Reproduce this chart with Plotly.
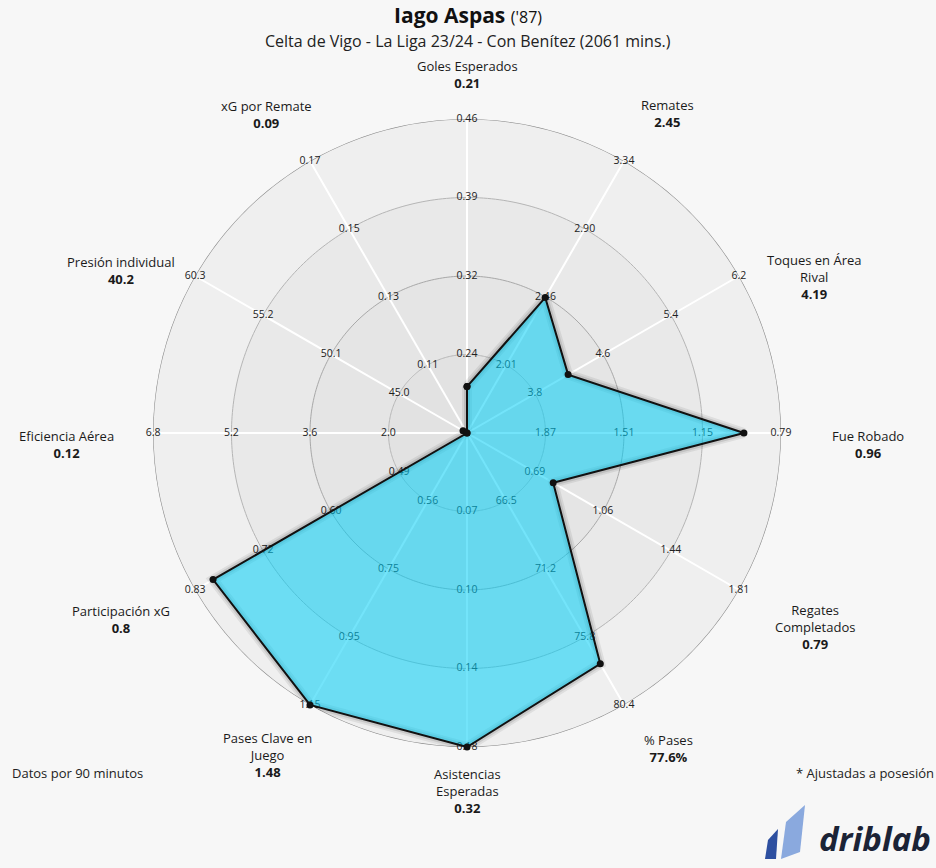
import numpy as np
import plotly.graph_objects as go

# ---------------- data ----------------
categories = ["Goles Esperados", "Remates", "Toques en Área<br>Rival", "Fue Robado",
              "Regates<br>Completados", "% Pases", "Asistencias<br>Esperadas",
              "Pases Clave en<br>Juego", "Participación xG", "Eficiencia Aérea",
              "Presión individual", "xG por Remate"]
values = [0.21, 2.45, 4.19, 0.96, 0.79, 77.6, 0.32, 1.48, 0.8, 0.12, 40.2, 0.09]
value_labels = ["0.21", "2.45", "4.19", "0.96", "0.79", "77.6%", "0.32", "1.48",
                "0.8", "0.12", "40.2", "0.09"]
tick_labels = [
    ["0.24", "0.32", "0.39", "0.46"],
    ["2.01", "2.46", "2.90", "3.34"],
    ["3.8", "4.6", "5.4", "6.2"],
    ["1.87", "1.51", "1.15", "0.79"],
    ["0.69", "1.06", "1.44", "1.81"],
    ["66.5", "71.2", "75.8", "80.4"],
    ["0.07", "0.10", "0.14", "0.18"],
    ["0.56", "0.75", "0.95", "1.15"],
    ["0.49", "0.60", "0.72", "0.83"],
    ["2.0", "3.6", "5.2", "6.8"],
    ["45.0", "50.1", "55.2", "60.3"],
    ["0.11", "0.13", "0.15", "0.17"],
]

# ---------------- layout helpers ----------------
W, H = 936, 868
CX, CY, RPX = 467, 433, 314
N = len(categories)
angles = [i * 360 / N for i in range(N)]
# label block placement (pixel radius, compass angle)
label_rpx = [358, 377, 381, 401, 398, 374.5, 358, 379, 393, 401, 382.5, 376.5]
label_ang = [0, 32.2, 65.9, 91.6, 119.1, 147.5, 180, 211.8, 241.6, 268.4, 295.2, 327.9]


def scale(v, ticks):
    t = [float(x) for x in ticks]
    step = (t[-1] - t[0]) / (len(t) - 1)
    origin = t[0] - step
    return min(max((v - origin) / step, 0.0), float(len(t)))


r_norm = [scale(v, t) for v, t in zip(values, tick_labels)]

FONT = "Open Sans"
fig = go.Figure()

# background bands with ring lines
circ = np.linspace(0, 360, 361)
band_cols = {4: "#efefef", 3: "#e9e9e9", 2: "#e5e5e5", 1: "#e2e2e2"}
ring_cols = {4: "#8c8c8c", 3: "#b5b5b5", 2: "#a8a8a8", 1: "#b8b8b8"}
for k in [4, 3, 2, 1]:
    fig.add_trace(go.Scatterpolar(r=[k] * len(circ), theta=circ, mode="lines",
                                  fill="toself", fillcolor=band_cols[k],
                                  line=dict(color=ring_cols[k], width=1.2 if k == 4 else 1),
                                  hoverinfo="skip", showlegend=False))

# spokes
sr, st = [], []
for a in angles:
    sr += [0, 4, None]
    st += [a, a, None]
fig.add_trace(go.Scatterpolar(r=sr, theta=st, mode="lines",
                              line=dict(color="white", width=2),
                              hoverinfo="skip", showlegend=False))

# per-axis tick labels
tr, tt, tx = [], [], []
for a, ticks in zip(angles, tick_labels):
    for j, lab in enumerate(ticks):
        tr.append(j + 1)
        tt.append(a)
        tx.append(lab)
fig.add_trace(go.Scatterpolar(r=tr, theta=tt, text=tx, mode="text",
                              textfont=dict(family=FONT, size=10.5, color="#222222"),
                              textposition="middle center",
                              hoverinfo="skip", showlegend=False))

# shadow + polygon
fig.add_trace(go.Scatterpolar(r=r_norm + [r_norm[0]], theta=angles + [angles[0]],
                              mode="lines", line=dict(color="rgba(0,0,0,0.07)", width=10),
                              hoverinfo="skip", showlegend=False))
fig.add_trace(go.Scatterpolar(r=r_norm + [r_norm[0]], theta=angles + [angles[0]],
                              mode="lines", line=dict(color="rgba(0,0,0,0.10)", width=6),
                              hoverinfo="skip", showlegend=False))
fig.add_trace(go.Scatterpolar(r=r_norm + [r_norm[0]], theta=angles + [angles[0]],
                              mode="lines+markers", fill="toself",
                              fillcolor="rgba(0,205,245,0.55)",
                              line=dict(color="#111111", width=2),
                              marker=dict(color="#111111", size=7),
                              hoverinfo="skip", showlegend=False))

dom_x = [(CX - RPX) / W, (CX + RPX) / W]
dom_y = [(H - CY - RPX) / H, (H - CY + RPX) / H]

annotations = []
# category labels outside the radar
for c, v, rp, ang in zip(categories, value_labels, label_rpx, label_ang):
    px = CX + rp * np.sin(np.radians(ang))
    py = CY - rp * np.cos(np.radians(ang))
    annotations.append(dict(text=f"{c}<br><b>{v}</b>", x=px / W, y=1 - py / H,
                            xref="paper", yref="paper", xanchor="center",
                            yanchor="middle", showarrow=False, align="center",
                            font=dict(family=FONT, size=13, color="#1a1a1a")))

annotations += [
    dict(text="<b>Iago Aspas</b> <span style='font-size:16px'>('87)</span>",
         x=468 / W, y=1 - 15 / H, xref="paper", yref="paper",
         xanchor="center", yanchor="middle", showarrow=False,
         font=dict(family=FONT, size=21, color="#111111")),
    dict(text="Celta de Vigo - La Liga 23/24 - Con Benítez (2061 mins.)",
         x=468 / W, y=1 - 41 / H, xref="paper", yref="paper",
         xanchor="center", yanchor="middle", showarrow=False,
         font=dict(family=FONT, size=16, color="#222222")),
    dict(text="Datos por 90 minutos", x=10 / W, y=1 - 773 / H,
         xref="paper", yref="paper", xanchor="left", yanchor="middle",
         showarrow=False, font=dict(family=FONT, size=13, color="#222222")),
    dict(text="* Ajustadas a posesión", x=1.0, y=1 - 773 / H,
         xref="paper", yref="paper", xanchor="right", yanchor="middle",
         showarrow=False, font=dict(family=FONT, size=13, color="#222222")),
    dict(text="<b><i>driblab</i></b>", x=933 / W, y=1 - 838 / H,
         xref="paper", yref="paper", xanchor="right", yanchor="middle",
         showarrow=False, font=dict(family=FONT, size=33, color="#1b2336")),
]

fig.update_layout(
    width=W, height=H,
    margin=dict(l=0, r=0, t=0, b=0),
    paper_bgcolor="#f7f7f7",
    plot_bgcolor="#f7f7f7",
    showlegend=False,
    polar=dict(
        domain=dict(x=dom_x, y=dom_y),
        bgcolor="rgba(0,0,0,0)",
        radialaxis=dict(range=[0, 4], visible=False, showgrid=False),
        angularaxis=dict(rotation=90, direction="clockwise", visible=False,
                         showgrid=False, showline=False),
    ),
    annotations=annotations,
)


def px_path(pts):
    return "M " + " L ".join(f"{x / W:.5f},{1 - y / H:.5f}" for x, y in pts) + " Z"


fig.add_shape(type="path", xref="paper", yref="paper",
              path=px_path([(765, 859), (768, 840), (778, 829), (776, 859)]),
              fillcolor="#2d4fa0", line=dict(width=0))
fig.add_shape(type="path", xref="paper", yref="paper",
              path=px_path([(781, 859), (786, 822), (805, 805), (800, 852)]),
              fillcolor="#8aa9de", line=dict(width=0))

fig.write_html("out.html", config={"displayModeBar": False},
               post_script="document.body.style.margin='0';"
                           "document.body.style.overflow='hidden';"
                           "document.body.style.background='#f7f7f7';")
